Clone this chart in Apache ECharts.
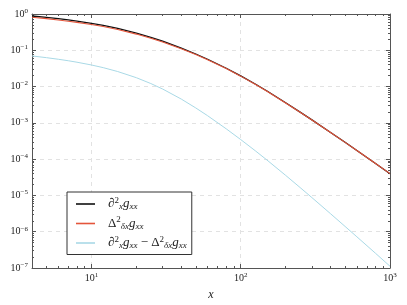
<!DOCTYPE html>
<html><head><meta charset="utf-8">
<script src="https://cdn.jsdelivr.net/npm/echarts@6/dist/echarts.min.js"></script>
<style>html,body{margin:0;padding:0;background:#fff}#c{width:407px;height:305px}</style>
</head><body><div id="c"></div>
<script>
// ---- data ----
const xValues = [4,5,6,7,8,10,12,15,20,25,30,40,50,60,80,100,125,150,200,250,300,400,500,600,800,1000];
const exactValues = [0.8808,0.8066,0.7416,0.6845,0.6349,0.5524,0.4842,0.400,0.297,0.2271,0.1780,0.1152,0.0791,0.0567,0.0320,0.01973,0.01176,0.00752,0.003576,0.001979,0.001210,5.45e-4,2.908e-4,1.735e-4,7.59e-5,3.98e-5];
const fdValues = [0.811,0.744,0.685,0.633,0.588,0.513,0.451,0.374,0.2794,0.215,0.1694,0.1107,0.0765,0.0551,0.0313,0.01938,0.01159,0.00743,0.00354,0.001963,0.001201,5.42e-4,2.894e-4,1.728e-4,7.59e-5,3.98e-5];
const diffValues = [0.0698,0.0626,0.0566,0.0515,0.0469,0.03936,0.03324,0.02597,0.01757,0.01212,0.00856,0.00452,0.002579,0.001575,6.84e-4,3.467e-4,1.711e-4,9.44e-5,3.57e-5,1.648e-5,8.70e-6,3.125e-6,1.400e-6,7.24e-7,2.54e-7,1.117e-7];
const seriesNames = ['exact','fd','diff'];
const xMinorTicks = [5,6,7,8,9,20,30,40,50,60,70,80,90,200,300,400,500,600,700,800,900];
const yMinorTicks = [2e-7,3e-7,4e-7,5e-7,6e-7,7e-7,8e-7,9e-7,
  2e-6,3e-6,4e-6,5e-6,6e-6,7e-6,8e-6,9e-6,
  2e-5,3e-5,4e-5,5e-5,6e-5,7e-5,8e-5,9e-5,
  2e-4,3e-4,4e-4,5e-4,6e-4,7e-4,8e-4,9e-4,
  2e-3,3e-3,4e-3,5e-3,6e-3,7e-3,8e-3,9e-3,
  2e-2,3e-2,4e-2,5e-2,6e-2,7e-2,8e-2,9e-2,
  0.2,0.3,0.4,0.5,0.6,0.7,0.8,0.9];
const legendLabels = {
  exact: '{r|∂}{sp|2}{sb|x}{i|g}{sb|xx}',
  fd: '{r|Δ}{sp|2}{sb|δx}{i|g}{sb|xx}',
  diff: '{r|∂}{sp|2}{sb|x}{i|g}{sb|xx}{r| − Δ}{sp|2}{sb|δx}{i|g}{sb|xx}'
};

const SERIF = 'Liberation Serif';
const AX = '#555';
const labelRich = {
  b: {fontFamily: SERIF, fontSize: 10, color: '#222'},
  s: {fontFamily: SERIF, fontSize: 7, color: '#222', padding: [0,0,6,0]}
};
function powLabel(v) {
  const l = Math.log10(v), e = Math.round(l);
  if (Math.abs(l - e) > 1e-6) return '';
  return '{b|10}{s|' + (e < 0 ? '\u2212' + (-e) : String(e)) + '}';
}
function mkAxis(kind, pos, min, max, opts) {
  const a = {
    type: 'log', logBase: 10, min: min, max: max, position: pos, gridIndex: 0,
    axisLine: {show: !opts.minor, onZero: false, lineStyle: {color: AX, width: 1}},
    axisTick: {show: true, inside: true, length: opts.minor ? 2 : 4, lineStyle: {color: AX, width: 1}},
    axisLabel: {show: false},
    splitLine: {show: false},
    minorTick: {show: false}
  };
  if (opts.minor) a.axisTick.customValues = opts.minor;
  if (opts.main) {
    a.axisLabel = {show: true, formatter: powLabel, rich: labelRich, margin: 4, showMinLabel: true, showMaxLabel: true};
    a.splitLine = {show: true, lineStyle: {color: '#e2e2e2', type: [4,4], width: 1}};
  }
  return a;
}
const xAxes = [
  Object.assign(mkAxis('x','bottom',4,1000,{main:true}), {
    name: 'x', nameLocation: 'middle', nameGap: 20,
    nameTextStyle: {fontFamily: SERIF, fontStyle: 'italic', fontSize: 12, color: '#222'}
  }),
  mkAxis('x','top',4,1000,{}),
  mkAxis('x','bottom',4,1000,{minor:xMinorTicks}),
  mkAxis('x','top',4,1000,{minor:xMinorTicks})
];
const yAxes = [
  mkAxis('y','left',1e-7,1,{main:true}),
  mkAxis('y','right',1e-7,1,{}),
  mkAxis('y','left',1e-7,1,{minor:yMinorTicks}),
  mkAxis('y','right',1e-7,1,{minor:yMinorTicks})
];
function pairs(ys) { return xValues.map((x, i) => [x, ys[i]]); }
const colors = ['#111111', '#e4553b', '#a9d9e6'];
const widths = [1.3, 1.1, 1.0];
const dataSets = [exactValues, fdValues, diffValues];

const chart = echarts.init(document.getElementById('c'), null, {renderer: 'canvas'});
chart.setOption({
  animation: false,
  backgroundColor: '#fff',
  grid: {left: 32, right: 17, top: 14, bottom: 37, containLabel: false, outerBoundsMode: 'none'},
  xAxis: xAxes,
  yAxis: yAxes,
  legend: {
    orient: 'vertical', left: 67, top: 192, align: 'left',
    padding: [4, 5, 4, 9], itemGap: 4, itemWidth: 19, itemHeight: 1.6, icon: 'rect',
    borderColor: '#333', borderWidth: 1, backgroundColor: '#fff',
    data: seriesNames,
    formatter: n => legendLabels[n],
    textStyle: {
      padding: [0, 0, 0, 8],
      rich: {
        r: {fontFamily: SERIF, fontSize: 13, color: '#222'},
        i: {fontFamily: SERIF, fontStyle: 'italic', fontSize: 13, color: '#222'},
        sp: {fontFamily: SERIF, fontSize: 9, color: '#222', padding: [0,0,7,0]},
        sb: {fontFamily: SERIF, fontStyle: 'italic', fontSize: 9, color: '#222', padding: [6,0,0,0]}
      }
    }
  },
  series: seriesNames.map((n, i) => ({
    name: n, type: 'line', xAxisIndex: 0, yAxisIndex: 0,
    data: pairs(dataSets[i]), showSymbol: false, symbol: 'none', smooth: false,
    itemStyle: {color: colors[i]},
    lineStyle: {color: colors[i], width: widths[i]}, z: 3 + i
  }))
});
</script></body></html>
